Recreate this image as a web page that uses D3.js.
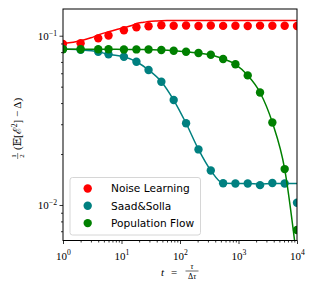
<!DOCTYPE html>
<html><head><meta charset="utf-8">
<script src="https://cdn.jsdelivr.net/npm/d3@7"></script>
<style>
html,body{margin:0;padding:0;background:#fff;}
svg{display:block;}
</style></head>
<body>
<script>
// ---- data ----
const times = [1,2,4,6,11,18,29,48,78,127,207,336,546,886,1438,2335,3792,6158,10000];
const noiseMarkers = [0.0895,0.0902,0.0965,0.1003,0.1076,0.1121,0.1137,0.1152,0.1146,0.1150,0.1140,0.1148,0.1143,0.1146,0.1141,0.1147,0.1144,0.1146,0.1142];
const noiseLineT = [1,1.5,2,3,4,6,8,11,15,18,24,29,40,60,100,300,10000];
const noiseLine  = [0.0900,0.0915,0.0934,0.0972,0.1010,0.1055,0.1085,0.1115,0.1150,0.1180,0.1200,0.1212,0.1222,0.1228,0.1230,0.1230,0.1230];
const saadMarkers = [0.0834,0.0826,0.0804,0.0776,0.0751,0.0702,0.0627,0.0535,0.0417,0.0304,0.0213,0.0160,0.01343,0.0134,0.0134,0.0131,0.0135,0.0134,0.0103];
const saadLine    = [0.0834,0.0826,0.0804,0.0776,0.0751,0.0702,0.0627,0.0535,0.0417,0.0304,0.0213,0.0160,0.01343,0.0134,0.0134,0.0133,0.0134,0.0134,0.0134];
const flowMarkers = [0.0831,0.0831,0.0831,0.0831,0.0830,0.0830,0.0829,0.0823,0.0815,0.0804,0.0790,0.0772,0.0729,0.0678,0.0583,0.0462,0.0307,0.0163,0.00712];
const flowLine    = [0.0831,0.0831,0.0831,0.0831,0.0830,0.0830,0.0829,0.0823,0.0815,0.0804,0.0790,0.0772,0.0729,0.0678,0.0583,0.0462,0.0307,0.0163,0.0047];
const seriesNames = ["Noise Learning","Saad&Solla","Population Flow"];
const seriesColors = ["#ff0000","#008080","#008000"];
const xTickVals = [1,10,100,1000,10000];
const xTickExp = ["0","1","2","3","4"];
const yTickVals = [0.1,0.01];
const yTickExp = ["\u22121","\u22122"];

// ---- layout ----
const W=315,H=289;
const L=63,R=297,T=9,B=240.5;
const x = d3.scaleLog().domain([1,10000]).range([L,R]);
const y = d3.scaleLog().domain([0.00617,0.1438]).range([B,T]);

const svg = d3.select("body").append("svg").attr("width",W).attr("height",H);
svg.append("defs").append("clipPath").attr("id","clip")
  .append("rect").attr("x",L).attr("y",T).attr("width",R-L).attr("height",B-T);

const plot = svg.append("g").attr("clip-path","url(#clip)");
const line = d3.line().x(d=>x(d[0])).y(d=>y(d[1])).curve(d3.curveMonotoneX);
function drawSeries(lt, lv, mv, color){
  plot.append("path").datum(lt.map((t,i)=>[t,lv[i]]))
    .attr("d",line).attr("fill","none").attr("stroke",color).attr("stroke-width",1.5);
  plot.selectAll(null).data(times.map((t,i)=>[t,mv[i]])).enter().append("circle")
    .attr("cx",d=>x(d[0])).attr("cy",d=>y(d[1])).attr("r",4.2).attr("fill",color);
}
drawSeries(noiseLineT, noiseLine, noiseMarkers, seriesColors[0]);
drawSeries(times, saadLine, saadMarkers, seriesColors[1]);
drawSeries(times, flowLine, flowMarkers, seriesColors[2]);

// ---- axes ----
const tickFont = "'Liberation Serif','DejaVu Serif',serif";
const xMinor=[]; for(let d=1; d<10000; d*=10) for(let k=2;k<10;k++) xMinor.push(d*k);
const yMinor=[]; [0.001,0.01].forEach(d=>{for(let k=2;k<10;k++){const v=d*k; if(v>=0.00617&&v<=0.1438) yMinor.push(v);}});

const gx = svg.append("g").attr("transform",`translate(0,${B})`);
gx.call(d3.axisBottom(x).tickValues(xMinor).tickSize(2).tickFormat(""));
gx.call(g=>{});
const gx2 = svg.append("g").attr("transform",`translate(0,${B})`)
  .call(d3.axisBottom(x).tickValues(xTickVals).tickSize(3.5).tickFormat(""));
[gx,gx2].forEach(g=>{g.select(".domain").remove(); g.selectAll("line").attr("stroke","#000").attr("stroke-width",0.8);});
gx2.selectAll(".tick").append("text").attr("y",19).attr("fill","#000")
  .attr("font-family",tickFont).attr("font-size",11).attr("text-anchor","middle")
  .each(function(d,i){
    const t=d3.select(this);
    t.append("tspan").text("10");
    t.append("tspan").attr("dy",-4.5).attr("font-size",7.7).text(xTickExp[i]);
  });

const gy = svg.append("g").attr("transform",`translate(${L},0)`)
  .call(d3.axisLeft(y).tickValues(yMinor).tickSize(2).tickFormat(""));
const gy2 = svg.append("g").attr("transform",`translate(${L},0)`)
  .call(d3.axisLeft(y).tickValues(yTickVals).tickSize(3.5).tickFormat(""));
[gy,gy2].forEach(g=>{g.select(".domain").remove(); g.selectAll("line").attr("stroke","#000").attr("stroke-width",0.8);});
gy2.selectAll(".tick").append("text").attr("x",-6).attr("y",4).attr("fill","#000")
  .attr("font-family",tickFont).attr("font-size",11).attr("text-anchor","end")
  .each(function(d,i){
    const t=d3.select(this);
    t.append("tspan").text("10");
    t.append("tspan").attr("dy",-4.5).attr("font-size",7.7).text(yTickExp[i]);
  });

// frame
svg.append("rect").attr("x",L).attr("y",T).attr("width",R-L).attr("height",B-T)
  .attr("fill","none").attr("stroke","#000").attr("stroke-width",1);

// ---- x label: t = tau / Delta tau ----
const xl = svg.append("g").attr("font-family",tickFont).attr("fill","#000");
xl.append("text").attr("x",161).attr("y",275.5).attr("font-size",11).attr("font-style","italic").text("t");
xl.append("text").attr("x",171).attr("y",275.5).attr("font-size",11).text("=");
xl.append("text").attr("x",192).attr("y",268.5).attr("font-size",8).attr("font-style","italic").attr("text-anchor","middle").text("τ");
xl.append("line").attr("x1",185.5).attr("x2",198.5).attr("y1",271).attr("y2",271).attr("stroke","#000").attr("stroke-width",0.6);
xl.append("text").attr("x",192).attr("y",278.5).attr("font-size",8).attr("text-anchor","middle")
  .call(t=>{t.append("tspan").text("Δ"); t.append("tspan").attr("font-style","italic").text("τ");});

// ---- y label ----
const yl = svg.append("g").attr("transform","translate(21,124)rotate(-90)").attr("font-family",tickFont).attr("fill","#000");
const main = yl.append("text").attr("x",-26).attr("y",0).attr("font-size",11);
main.append("tspan").text("(");
main.append("tspan").text("𝔼");
main.append("tspan").text("[");
main.append("tspan").text("ℰ");
main.append("tspan").attr("dy",-4).attr("font-size",7.7).text("2");
main.append("tspan").attr("dy",4).text("] − Δ)");
yl.append("text").attr("x",-32).attr("y",-5).attr("font-size",7).attr("text-anchor","middle").text("1");
yl.append("line").attr("x1",-35).attr("x2",-29).attr("y1",-3.3).attr("y2",-3.3).attr("stroke","#000").attr("stroke-width",0.5);
yl.append("text").attr("x",-32).attr("y",3).attr("font-size",7).attr("text-anchor","middle").text("2");

// ---- legend ----
const lg = svg.append("g");
lg.append("rect").attr("x",70).attr("y",177.5).attr("width",130.5).attr("height",57.5).attr("rx",2.5)
  .attr("fill","#fff").attr("fill-opacity",0.8).attr("stroke","#cccccc").attr("stroke-width",0.8);
seriesNames.forEach((n,i)=>{
  const cy = 188.5 + i*17.3;
  lg.append("circle").attr("cx",87.7).attr("cy",cy).attr("r",4.2).attr("fill",seriesColors[i]);
  lg.append("text").attr("x",111).attr("y",cy+3.8).attr("font-family","'DejaVu Sans',sans-serif")
    .attr("font-size",10.6).attr("fill","#000").text(n);
});
</script>
</body></html>
